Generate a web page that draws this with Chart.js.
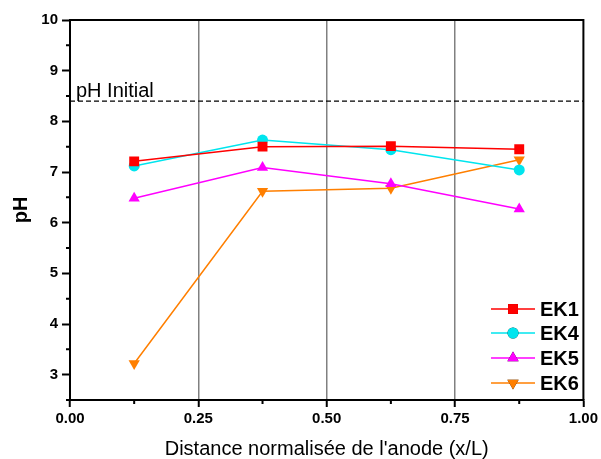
<!DOCTYPE html>
<html>
<head>
<meta charset="utf-8">
<script src="https://cdn.jsdelivr.net/npm/chart.js@4"></script>
<style>
  body { margin: 0; background: #fff; }
  #wrap { width: 601px; height: 459px; }
</style>
</head>
<body>
<div id="wrap"><canvas id="chart" width="601" height="459"></canvas></div>
<script>
// x positions (normalised distance from anode)
var positions = [0.125, 0.375, 0.625, 0.875];

// pH values
var ek1 = [7.21, 7.50, 7.51, 7.45];
var ek4 = [7.12, 7.63, 7.44, 7.04];
var ek5 = [6.48, 7.09, 6.77, 6.27];
var ek6 = [3.22, 6.62, 6.68, 7.24];

var initial_ph = 8.4;
var x_ticks = [0.00, 0.25, 0.50, 0.75, 1.00];
var grid_at = [0.25, 0.50, 0.75];

var FONT = "Arial, 'Liberation Sans', sans-serif";

function pairs(ys){
    let out = [];
    for (let i=0; i<positions.length; i++){
        out.push({x: positions[i], y: ys[i]});
    }
    return out;
}

function near(v, list){
    for (let t of list) if (Math.abs(t - v) < 1e-6) return true;
    return false;
}

function series(label, ys, color, style, rot, r){
    return {
        label: label,
        data: pairs(ys),
        borderColor: color,
        backgroundColor: color,
        borderWidth: 1.5,
        pointStyle: style,
        rotation: rot,
        pointRadius: r,
        pointHoverRadius: r,
        pointBorderWidth: 0,
        showLine: true,
        fill: false
    };
}

var datasets = [
    series('EK1', ek1, '#ff0000', 'rect', 0, 7),
    series('EK4', ek4, '#00e5ee', 'circle', 0, 5.5),
    series('EK5', ek5, '#ff00ff', 'triangle', 0, 6.5),
    series('EK6', ek6, '#ff7f00', 'triangle', 180, 6.5),
    {
        label: 'pH Initial',
        data: [{x: 0, y: initial_ph}, {x: 1, y: initial_ph}],
        borderColor: '#000',
        borderWidth: 1.3,
        borderDash: [5, 3],
        pointRadius: 0,
        showLine: true,
        isRef: true
    }
];

// frame, minor ticks, "pH Initial" text and the legend box
var extras = {
    id: 'extras',
    afterDatasetsDraw(chart){
        let c = chart.ctx, a = chart.chartArea;
        let x = chart.scales.x, y = chart.scales.y;
        c.save();
        c.strokeStyle = '#000';
        c.lineWidth = 2;
        c.beginPath();
        c.moveTo(a.left, a.top); c.lineTo(a.right, a.top); c.lineTo(a.right, a.bottom);
        c.stroke();

        // short minor ticks
        c.lineWidth = 2;
        c.beginPath();
        x.ticks.forEach(function(t){
            if (near(t.value, x_ticks)) return;
            let px = x.getPixelForValue(t.value);
            c.moveTo(px, a.bottom); c.lineTo(px, a.bottom + 4);
        });
        y.ticks.forEach(function(t){
            if (Number.isInteger(t.value)) return;
            let py = y.getPixelForValue(t.value);
            c.moveTo(a.left, py); c.lineTo(a.left - 4, py);
        });
        c.stroke();

        c.fillStyle = '#000';
        c.font = '20px ' + FONT;
        c.textBaseline = 'alphabetic';
        c.fillText('pH Initial', a.left + 6, y.getPixelForValue(initial_ph) - 4);

        // legend
        let rows = [309, 333, 358, 383];
        let k = 0;
        chart.data.datasets.forEach(function(ds){
            if (ds.isRef) return;
            let ly = rows[k++];
            c.strokeStyle = ds.borderColor;
            c.lineWidth = 1.5;
            c.beginPath(); c.moveTo(491, ly); c.lineTo(535, ly); c.stroke();
            Chart.helpers.drawPoint(c, {pointStyle: ds.pointStyle, rotation: ds.rotation, radius: ds.pointRadius, borderWidth: 0}, 513, ly);
            c.fillStyle = ds.borderColor;
            c.fill();
            c.fillStyle = '#000';
            c.font = 'bold 20px ' + FONT;
            c.textBaseline = 'middle';
            c.fillText(ds.label, 540, ly + 1);
        });
        c.restore();
    }
};

var chart = new Chart(document.getElementById('chart'), {
    type: 'scatter',
    data: { datasets: datasets },
    plugins: [extras],
    options: {
        responsive: false,
        animation: false,
        layout: { padding: { top: 20, right: 16, left: 0, bottom: 0 } },
        plugins: { legend: { display: false }, tooltip: { enabled: false } },
        scales: {
            x: {
                type: 'linear',
                min: 0, max: 1,
                afterFit: function(s){ s.height = 59; },
                afterBuildTicks: function(s){
                    let t = [];
                    for (let i=0; i<=8; i++) t.push({value: i*0.125});
                    s.ticks = t;
                },
                ticks: {
                    autoSkip: false,
                    maxRotation: 0,
                    color: '#000',
                    padding: 3,
                    font: { family: FONT, size: 15, weight: 'bold' },
                    callback: function(v){
                        for (let t of x_ticks) if (Math.abs(t - v) < 1e-6) return t.toFixed(2);
                        return '';
                    }
                },
                grid: {
                    color: function(ctx){
                        let v = ctx.tick ? ctx.tick.value : -1;
                        return near(v, grid_at) ? '#808080' : 'rgba(0,0,0,0)';
                    },
                    lineWidth: 1.5,
                    tickColor: function(ctx){
                        let v = ctx.tick ? ctx.tick.value : -1;
                        return near(v, x_ticks) ? '#000' : 'rgba(0,0,0,0)';
                    },
                    tickLength: 7,
                    tickWidth: 2
                },
                border: { color: '#000', width: 2 },
                title: {
                    display: true,
                    text: "Distance normalisée de l'anode (x/L)",
                    color: '#000',
                    font: { family: FONT, size: 20, lineHeight: 1 },
                    padding: { top: 4, bottom: 0 }
                }
            },
            y: {
                min: 2.5, max: 10,
                afterFit: function(s){ s.width = 70; },
                ticks: {
                    stepSize: 0.5,
                    autoSkip: false,
                    color: '#000',
                    padding: 4,
                    font: { family: FONT, size: 15, weight: 'bold' },
                    callback: function(v){ return Number.isInteger(v) && v >= 3 ? String(v) : ''; }
                },
                grid: {
                    color: 'rgba(0,0,0,0)',
                    tickColor: function(ctx){
                        let v = ctx.tick ? ctx.tick.value : 0.5;
                        return Number.isInteger(v) ? '#000' : 'rgba(0,0,0,0)';
                    },
                    tickLength: 8,
                    tickWidth: 2
                },
                border: { color: '#000', width: 2 },
                title: {
                    display: true,
                    text: 'pH',
                    color: '#000',
                    font: { family: FONT, size: 20, weight: 'bold' },
                    padding: { top: 9, bottom: 0 }
                }
            }
        }
    }
});
</script>
</body>
</html>
